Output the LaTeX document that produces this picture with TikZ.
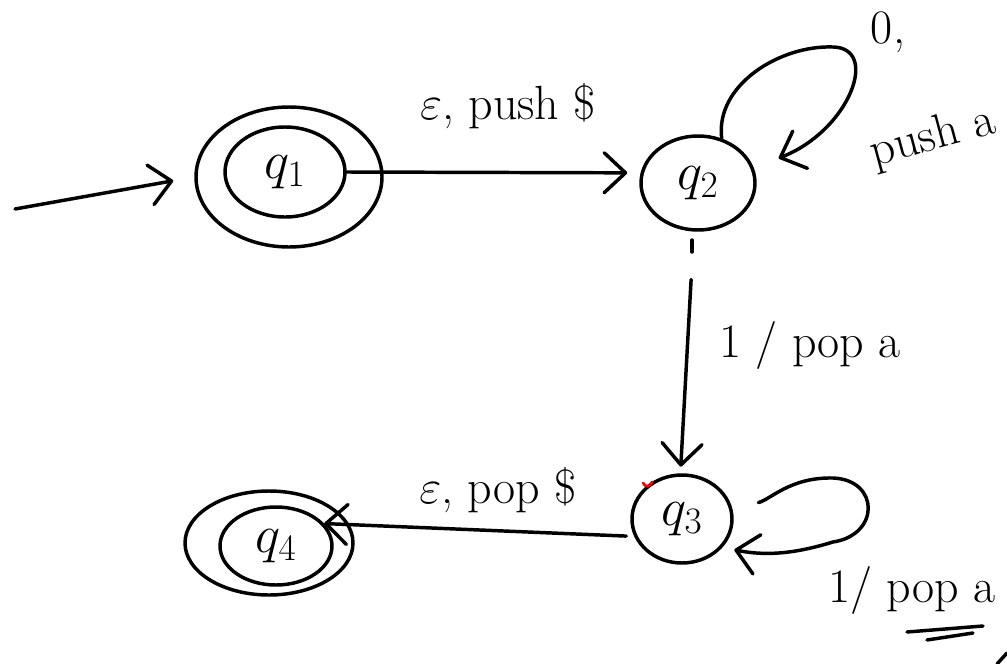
\RequirePackage{fix-cm}
\documentclass[tikz,border=0pt]{standalone}
\usepackage{xcolor}
\usetikzlibrary{arrows.meta,shapes.geometric}

\tikzset{
  state/.style={draw, ellipse, line width=2.6pt, inner sep=0pt, font=\fontsize{40}{44}\selectfont},
  ring/.style={draw, ellipse, line width=2.6pt, inner sep=0pt},
  pen/.style={line width=2.6pt, line cap=round, line join=round},
  arr/.style={pen, -{Straight Barb[round,length=16pt,width=30pt]}},
  lbl/.style={inner sep=0.75pt, font=\fontsize{36}{40}\selectfont},
}

\begin{document}
\begin{tikzpicture}[x=0.75pt,y=0.75pt,yscale=-1,xscale=1]
\useasboundingbox (0,0) rectangle (1007,664);

%Shape: Ellipse - states
\node [state, minimum width=90pt, minimum height=67.5pt] (q1) at (285,172) {$q_1$};
\node [ring, minimum width=139.5pt, minimum height=105pt] (q1out) at (289,177) {};
\node [state, minimum width=85.5pt, minimum height=70.5pt] (q2) at (698,183) {$q_2$};
\node [state, minimum width=75pt, minimum height=66pt] (q3) at (682,519) {$q_3$};
\node [state, minimum width=84pt, minimum height=58.5pt] (q4) at (276,546) {$q_4$};
\node [ring, minimum width=126pt, minimum height=78pt] (q4out) at (269,543) {};

%Straight Lines - start arrow
\coordinate (init) at (15,209);
\draw [arr, shorten >=16pt] (init) -- (q1out.west);

%Straight Lines
\draw [arr, shorten >=10pt] (q1.east) -- (q2.170);
\draw [arr, shorten <=36pt, shorten >=5pt] (q2.265) -- (q3.92);
\draw [pen] (692,240) -- (692,252);
\draw [arr, shorten <=6pt] (q3.200) -- (q4.25);

%Curve Lines - loops
\draw [arr, shorten >=20pt] (q2.62) .. controls (715,85) and (780,45) .. (833,47) .. controls (880,48) and (850,130) .. (q2.15);
\draw [arr, shorten <=20pt, shorten >=9pt] (q3.12) .. controls (770,500) and (790,477) .. (833,478) .. controls (880,480) and (880,535) .. (833,542) .. controls (800,552) and (770,557) .. (q3.325);

% Text Node
\node [lbl] (e12) at (508,106) {$\varepsilon$, push \$};
% Text Node
\node [lbl] (e22a) at (888,32) {0,};
% Text Node
\node [lbl, rotate=15] (e22b) at (933,138) {push a};
% Text Node
\node [lbl] (e23) at (810,345) {1 / pop a};
% Text Node
\node [lbl] (e33) at (912,590) {1/ pop a};
% Text Node
\node [lbl] (e34) at (498,490) {$\varepsilon$, pop \$};

%Straight Lines - underline
\draw [pen] (907,632) -- (983,626);
\draw [pen] (927,640) -- (973,633);
\draw [pen] (997,664) -- (1007,653);

%Shape: red tick
\draw [red, line width=2pt, line cap=round] (643,483) .. controls (646,488) and (650,487) .. (652,482);

\end{tikzpicture}
\end{document}
